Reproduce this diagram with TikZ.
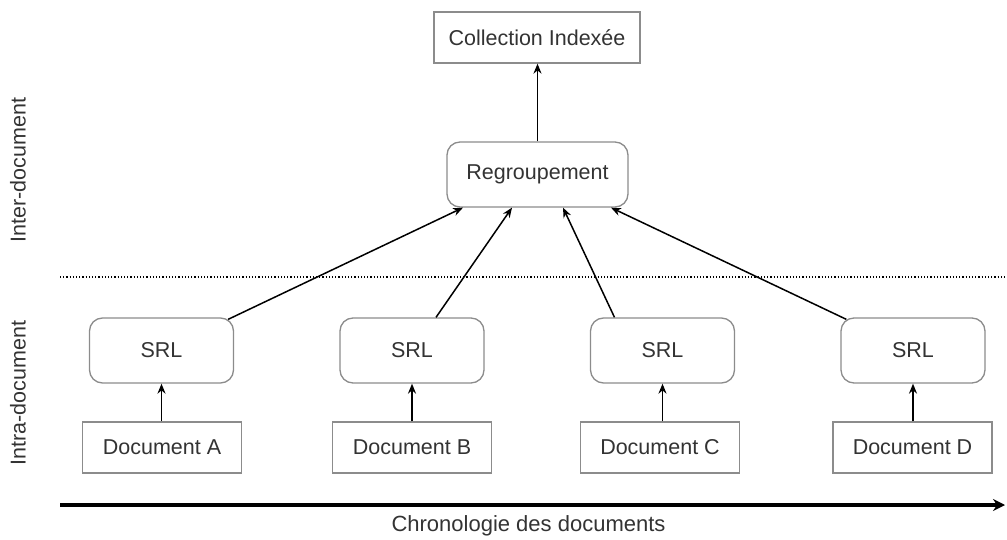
\documentclass[tikz,border=0pt]{standalone}
\usepackage{fontspec}
\setmainfont{Liberation Sans}
\usetikzlibrary{arrows.meta}
\tikzset{plain/.style={draw=black!45, line width=1.3pt, fill=white, inner sep=0pt, font=\fontsize{21.5}{25}\selectfont, text=black!80}}
\tikzset{docbox/.style={plain, minimum width=159pt, minimum height=51pt}}
\tikzset{srlbox/.style={plain, rounded corners=13pt, minimum width=144pt, minimum height=65pt}}
\tikzset{flow/.style={line width=1.5pt, -{Stealth[length=10pt,width=8pt]}}}
\tikzset{sidelabel/.style={rotate=90, font=\fontsize{21.5}{25}\selectfont, text=black!80}}

\begin{document}
\begin{tikzpicture}[x=1pt,y=-1pt]
\useasboundingbox (0,0) rectangle (1007,540);
% top
\node[plain, minimum width=206pt, minimum height=51pt] (coll) at (537,37.5) {Collection Indexée};
\node[srlbox, minimum width=181pt, minimum height=65pt] (regroup) at (537.5,174.5) {Regroupement};
\draw[flow] (regroup.north) -- (regroup.north |- coll.south);
%
% separator and levels
\coordinate (sepL) at (60,277);
\coordinate (sepR) at (1007,277);
\draw[dotted, line width=1.2pt] (sepL) -- (sepR);
\node[sidelabel] (inter) at (18,170) {Inter-document};
\node[sidelabel] (intra) at (18,393) {Intra-document};
%
% documents and SRL
\node[srlbox] (srlA) at (161.5,350.5) {SRL};
\node[srlbox] (srlB) at (412,350.5) {SRL};
\node[srlbox] (srlC) at (662.5,350.5) {SRL};
\node[srlbox] (srlD) at (913,350.5) {SRL};
\node[docbox] (docA) at (162,447.5) {Document A};
\node[docbox] (docB) at (412,447.5) {Document B};
\node[docbox] (docC) at (660,447.5) {Document C};
\node[docbox] (docD) at (912.5,447.5) {Document D};
\foreach \n in {A,B,C,D}
  \draw[flow] (doc\n.north -| srl\n.south) -- (srl\n.south);
%
% into regroupement
\draw[flow] ([xshift=-6pt,yshift=-2pt]srlA.north east) -- ([xshift=-74.5pt]regroup.south);
\draw[flow] ([xshift=24pt]srlB.north) -- ([xshift=-25.5pt]regroup.south);
\draw[flow] ([xshift=-48pt]srlC.north) -- ([xshift=25.5pt]regroup.south);
\draw[flow] ([xshift=6pt,yshift=-2pt]srlD.north west) -- ([xshift=73.5pt]regroup.south);
%
% time axis
\coordinate (tstart) at (60,505);
\coordinate (tend) at (1005,505);
\draw[line width=4pt, -{Stealth[length=12pt,width=12pt]}] (tstart) -- (tend);
\node[font=\fontsize{22}{26}\selectfont, text=black!80] (chrono) at (528.5,526) {Chronologie des documents};
\end{tikzpicture}
\end{document}
